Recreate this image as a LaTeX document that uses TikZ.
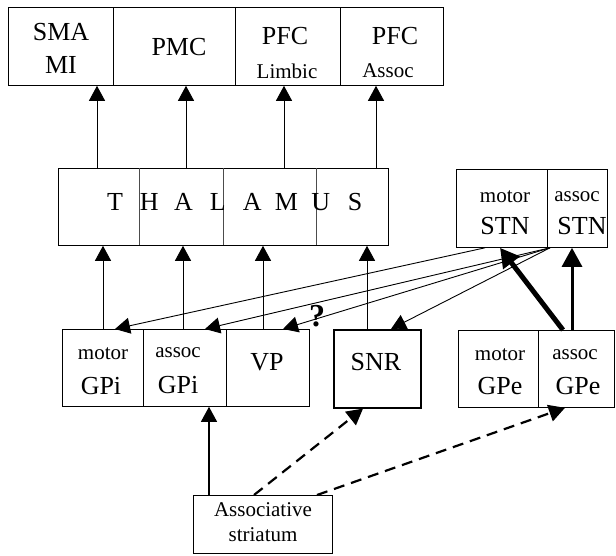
\documentclass[tikz,border=0pt]{standalone}
\usepackage{fontspec}
\setmainfont{Liberation Serif}
\usetikzlibrary{arrows.meta}
\begin{document}
\begin{tikzpicture}[x=1pt,y=-1pt,
  box/.style={draw, line width=0.8pt, rectangle, inner sep=0pt, anchor=north west},
  bigt/.style={font=\fontsize{26}{26}\selectfont, inner sep=0pt},
  smallt/.style={font=\fontsize{21}{21}\selectfont, inner sep=0pt},
  arr/.style={line width=0.9pt, -{Triangle[length=15pt,width=16pt]}},
  heavyarr/.style={-{Triangle[length=19pt,width=20pt]}},
  dasharr/.style={line width=2.2pt, dash pattern=on 11pt off 7pt, -{Triangle[length=16pt,width=17pt]}},
  divider/.style={line width=0.5pt, black!70}]
\useasboundingbox (0,0) rectangle (616,555);
% ---- top cortical row
\node[box, minimum width=105pt, minimum height=78pt] (sma) at (8,7) {};
\node[box, minimum width=122pt, minimum height=78pt] (pmc) at (113,7) {};
\node[box, minimum width=105pt, minimum height=78pt] (pfcl) at (235,7) {};
\node[box, minimum width=103pt, minimum height=78pt] (pfca) at (340,7) {};
\node[bigt] (tsma) at (61,32) {SMA};
\node[bigt] (tmi) at (61,65) {MI};
\node[bigt] (tpmc) at (179,47) {PMC};
\node[bigt] (tpfc1) at (285,36) {PFC};
\node[smallt] (tlimb) at (287,71) {Limbic};
\node[bigt] (tpfc2) at (395,36) {PFC};
\node[smallt] (tassoc0) at (388,71) {Assoc};
% ---- thalamus
\node[box, minimum width=330pt, minimum height=77pt] (th) at (58,168) {};
\draw[divider] (139,168) -- (139,245);
\draw[divider] (223,168) -- (223,245);
\draw[divider] (316,168) -- (316,245);
\foreach \l [count=\i from 0] in {T,H,A,L,A,M,U,S}
  \node[bigt] (thl\i) at (115+34.3*\i,202) {\l};
% ---- STN
\node[box, minimum width=91pt, minimum height=78pt] (mstn) at (456,169) {};
\node[box, minimum width=60pt, minimum height=78pt] (astn) at (547,169) {};
\node[smallt] (tm1) at (505,197) {motor};
\node[bigt] (ts1) at (505,226) {STN};
\node[smallt] (ta1) at (577,197) {assoc};
\node[bigt] (ts2) at (582,226) {STN};
% ---- GPi / VP
\node[box, minimum width=81pt, minimum height=77pt] (mgpi) at (62,329) {};
\node[box, minimum width=83pt, minimum height=77pt] (agpi) at (143,329) {};
\node[box, minimum width=83pt, minimum height=77pt] (vp) at (226,329) {};
\node[smallt] (tm2) at (103,354) {motor};
\node[bigt] (tg1) at (101,386) {GPi};
\node[smallt] (ta2) at (178,353) {assoc};
\node[bigt] (tg2) at (178,385) {GPi};
\node[bigt] (tvp) at (267,362) {VP};
% ---- SNR
\node[box, line width=1.6pt, minimum width=87pt, minimum height=78pt] (snr) at (333,329) {};
\node[bigt] (tsnr) at (376,362) {SNR};
% ---- GPe
\node[box, minimum width=80pt, minimum height=77pt] (mgpe) at (458,330) {};
\node[box, minimum width=76pt, minimum height=77pt] (agpe) at (538,330) {};
\node[smallt] (tm3) at (500,355) {motor};
\node[bigt] (tg3) at (500,386) {GPe};
\node[smallt] (ta3) at (575,355) {assoc};
\node[bigt] (tg4) at (578,386) {GPe};
% ---- striatum
\node[box, minimum width=139pt, minimum height=58pt] (str) at (193,495) {};
\node[smallt] (tstr1) at (263,510) {Associative};
\node[smallt] (tstr2) at (263,535) {striatum};
% ---- question mark
\node[font=\fontsize{32}{32}\selectfont\bfseries, inner sep=0pt] (q) at (317,316) {?};
% ---- x positions
\foreach \n/\x in {a/97,b/186,c/284,d/376,e/103,f/183,g/263,h/367,i/115,j/205,k/283,l/391,m/209,n/254,o/363,p/317,q/563,r/485,s/550,t/500,u/572,v/565}
  \coordinate (x\n) at (\x,0);
% thalamus -> cortex
\draw[arr] (xa |- th.north) -- (xa |- sma.south);
\draw[arr] (xb |- th.north) -- (xb |- pmc.south);
\draw[arr] (xc |- th.north) -- (xc |- pfcl.south);
\draw[arr] (xd |- th.north) -- (xd |- pfca.south);
% pallidum / SNR -> thalamus
\draw[arr] (xe |- mgpi.north) -- (xe |- th.south);
\draw[arr] (xf |- agpi.north) -- (xf |- th.south);
\draw[arr] (xg |- vp.north) -- (xg |- th.south);
\draw[arr] (xh |- snr.north) -- (xh |- th.south);
% STN -> pallidum / SNR
\draw[arr] (xr |- mstn.south) -- (xi |- mgpi.north);
\draw[arr] (xs |- astn.south) -- (xj |- agpi.north);
\draw[arr] (xs |- astn.south) -- (xk |- vp.north);
\draw[arr] (xs |- astn.south) -- (xl |- snr.north);
% GPe -> STN (heavy)
\draw[heavyarr, line width=5pt] (xq |- agpe.north) -- (xt |- mstn.south);
\draw[heavyarr, line width=3pt] (xu |- agpe.north) -- (xu |- astn.south);
% striatum outputs
\draw[arr, line width=1.2pt] (xm |- str.north) -- (xm |- agpi.south);
\draw[dasharr] (xn |- str.north) -- (xo |- snr.south);
\draw[dasharr] (xp |- str.north) -- (xv |- agpe.south);
\end{tikzpicture}
\end{document}
